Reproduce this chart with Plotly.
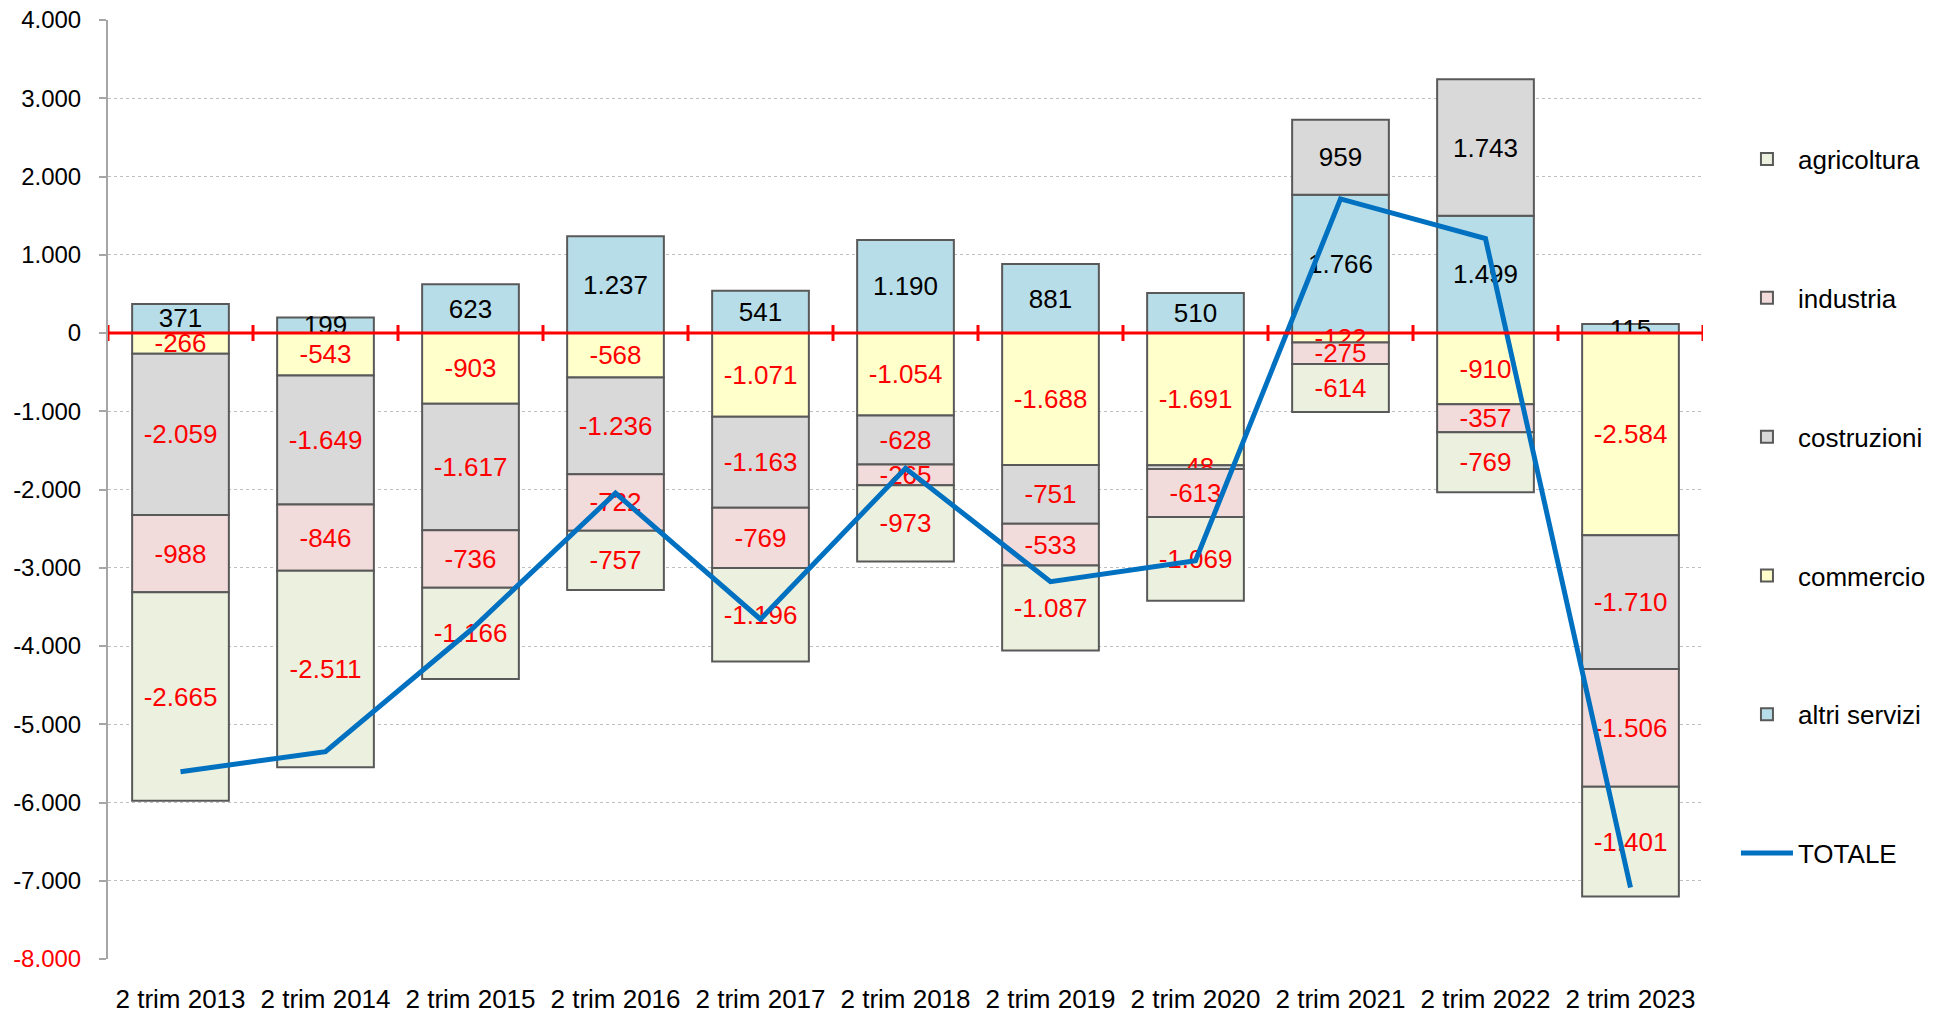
import plotly.graph_objects as go

categories = ["2 trim 2013", "2 trim 2014", "2 trim 2015", "2 trim 2016", "2 trim 2017",
              "2 trim 2018", "2 trim 2019", "2 trim 2020", "2 trim 2021", "2 trim 2022", "2 trim 2023"]

altri_servizi = [371, 199, 623, 1237, 541, 1190, 881, 510, 1766, 1499, 115]
commercio = [-266, -543, -903, -568, -1071, -1054, -1688, -1691, -122, -910, -2584]
costruzioni = [-2059, -1649, -1617, -1236, -1163, -628, -751, -48, 959, 1743, -1710]
industria = [-988, -846, -736, -722, -769, -265, -533, -613, -275, -357, -1506]
agricoltura = [-2665, -2511, -1166, -757, -1196, -973, -1087, -1069, -614, -769, -1401]
totale = [-5607, -5350, -3799, -2046, -3658, -1730, -3178, -2911, 1714, 1206, -7086]

y_tickvals = [4000, 3000, 2000, 1000, 0, -1000, -2000, -3000, -4000, -5000, -6000, -7000, -8000]
y_ticktext = ["4.000", "3.000", "2.000", "1.000", "0", "-1.000", "-2.000", "-3.000", "-4.000",
              "-5.000", "-6.000", "-7.000", "<span style='color:#FF0000'>-8.000</span>"]

FONT = "Liberation Sans, Arial, sans-serif"


def fmt(v):
    return f"{v:,}".replace(",", ".")


series = [
    ("altri servizi", altri_servizi, "#B7DEE8", 5),
    ("commercio", commercio, "#FFFFCC", 4),
    ("costruzioni", costruzioni, "#D9D9D9", 3),
    ("industria", industria, "#F2DCDB", 2),
    ("agricoltura", agricoltura, "#EBF1DE", 1),
]

fig = go.Figure()
for name, vals, color, rank in series:
    fig.add_trace(go.Bar(
        x=categories, y=vals, name=name,
        marker=dict(color=color, line=dict(color="#595959", width=2)),
        text=[fmt(v) for v in vals],
        textposition="inside", insidetextanchor="middle", textangle=0,
        textfont=dict(family=FONT, size=26,
                      color=["#000000" if v > 0 else "#FF0000" for v in vals]),
        constraintext="none",
        legendrank=rank, legendgroup=name,
        hoverinfo="skip",
    ))

fig.add_trace(go.Scatter(
    x=categories, y=totale, name="TOTALE", mode="lines",
    line=dict(color="#0070C0", width=5),
    legendrank=6, legendgroup="TOTALE",
))

# zero line with category-boundary ticks
shapes = [dict(type="line", xref="x", yref="y", x0=-0.5, x1=len(categories) - 0.5, y0=0, y1=0,
               line=dict(color="#FF0000", width=3), layer="above")]
for i in range(len(categories) + 1):
    shapes.append(dict(type="line", xref="x", yref="y", x0=i - 0.5, x1=i - 0.5,
                       ysizemode="pixel", yanchor=0, y0=-8, y1=8,
                       line=dict(color="#FF0000", width=3), layer="above"))

fig.update_layout(
    width=1940, height=1005,
    margin=dict(l=100, r=245, t=12, b=54, autoexpand=False),
    paper_bgcolor="white", plot_bgcolor="white",
    barmode="relative", bargap=0.333,
    font=dict(family=FONT, size=24, color="#000000"),
    uniformtext=dict(mode="show", minsize=26),
    shapes=shapes,
    showlegend=True,
    legend=dict(xref="container", yref="container",
                x=0.8907, xanchor="left", y=0.873, yanchor="top",
                maxheight=960,
                font=dict(family=FONT, size=26, color="#000000"),
                tracegroupgap=102, itemwidth=52, bgcolor="rgba(0,0,0,0)"),
)

fig.update_xaxes(
    range=[-0.5, len(categories) - 0.5], automargin=False,
    showline=False, showgrid=False, ticks="",
    tickfont=dict(family=FONT, size=26, color="#000000"),
    ticklabelstandoff=22, ticklabeloverflow="allow",
)
fig.update_yaxes(
    range=[-8000, 4000], tickvals=y_tickvals, ticktext=y_ticktext, automargin=False,
    showline=True, linecolor="#A6A6A6", linewidth=2,
    ticks="outside", ticklen=7, tickcolor="#A6A6A6", tickwidth=2,
    showgrid=True, gridcolor="#BFBFBF", griddash="dot", gridwidth=1,
    zeroline=False,
    tickfont=dict(family=FONT, size=24, color="#000000"),
    ticklabelstandoff=13, ticklabeloverflow="allow",
)

fig.write_html("out.html")
